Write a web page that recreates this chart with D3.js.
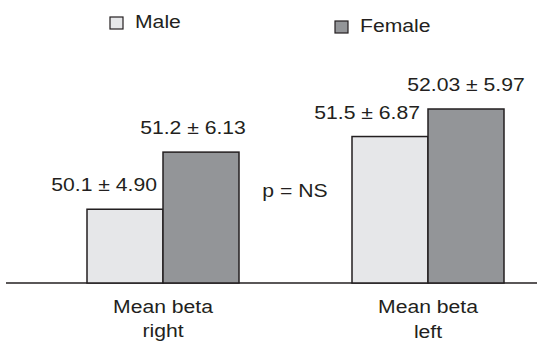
<!DOCTYPE html>
<html>
<head>
<meta charset="utf-8">
<script src="https://cdn.jsdelivr.net/npm/d3@7"></script>
<style>
  body { margin: 0; background: #fff; }
  text { font-family: "Liberation Sans", Arial, sans-serif; fill: #231f20; }
</style>
</head>
<body>
<div id="container"></div>
<script>
const categories = ["right", "left"];
const groups = ["Male", "Female"];
const means = { Male: [50.1, 51.5], Female: [51.2, 52.03] };
const sds = { Male: ["4.90", "6.87"], Female: ["6.13", "5.97"] };
const labelText = { Male: ["50.1", "51.5"], Female: ["51.2", "52.03"] };
const pText = "p = NS";

const width = 537, height = 342;
const colors = { Male: "#e6e7e9", Female: "#939598" };
const stroke = "#231f20";
const fontSize = 17.5;
const stretch = 1.21; // the original figure is stretched sideways

const svg = d3.select("#container").append("svg")
  .attr("width", width)
  .attr("height", height);

// centre of each bar pair, and bar offsets inside a pair
const xCat = d3.scalePoint().domain(categories).range([163, 428]);
const barW = 76;
const xg = d3.scaleBand().domain(groups).range([-barW, barW]);
const y = d3.scaleLinear().domain([48.68, 52.03]).range([283, 109]);
const base = y.domain()[0];

function barX(cat, g) {
  return xCat(cat) + xg(g);
}

function addText(x, yy, str, anchor) {
  return svg.append("text")
    .attr("transform", `translate(${x},${yy}) scale(${stretch},1)`)
    .attr("text-anchor", anchor || "start")
    .attr("font-size", fontSize)
    .text(str);
}

// baseline
svg.append("line")
  .attr("x1", 6).attr("x2", width)
  .attr("y1", y(base)).attr("y2", y(base))
  .attr("stroke", stroke).attr("stroke-width", 1.5);

// bars
groups.forEach(g => {
  categories.forEach((c, i) => {
    svg.append("rect")
      .attr("x", barX(c, g))
      .attr("y", y(means[g][i]))
      .attr("width", xg.bandwidth())
      .attr("height", y(base) - y(means[g][i]))
      .attr("fill", colors[g])
      .attr("stroke", stroke)
      .attr("stroke-width", 1.5);
  });
});

// value labels (hand-tuned offsets like the original)
const labelPos = {
  Male: [{ anchor: "end", dx: barW - 6 }, { anchor: "end", dx: barW - 8 }],
  Female: [{ anchor: "middle", dx: barW / 2 - 8 }, { anchor: "middle", dx: barW / 2 }]
};
groups.forEach(g => {
  categories.forEach((c, i) => {
    const p = labelPos[g][i];
    addText(barX(c, g) + p.dx, y(means[g][i]) - 18,
      labelText[g][i] + " \u00b1 " + sds[g][i], p.anchor);
  });
});

// p value
addText(295, 197, pText, "middle");

// category labels
categories.forEach(c => {
  addText(xCat(c), 313, "Mean beta", "middle");
  addText(xCat(c), c === "right" ? 337 : 338, c, "middle");
});

// legend
const legend = [
  { g: "Male", x: 110, y: 17 },
  { g: "Female", x: 335, y: 21 }
];
legend.forEach(d => {
  svg.append("rect")
    .attr("x", d.x).attr("y", d.y)
    .attr("width", 13).attr("height", 12)
    .attr("fill", colors[d.g])
    .attr("stroke", stroke).attr("stroke-width", 1.2);
  addText(d.x + 25, d.y + 11, d.g);
});
</script>
</body>
</html>
